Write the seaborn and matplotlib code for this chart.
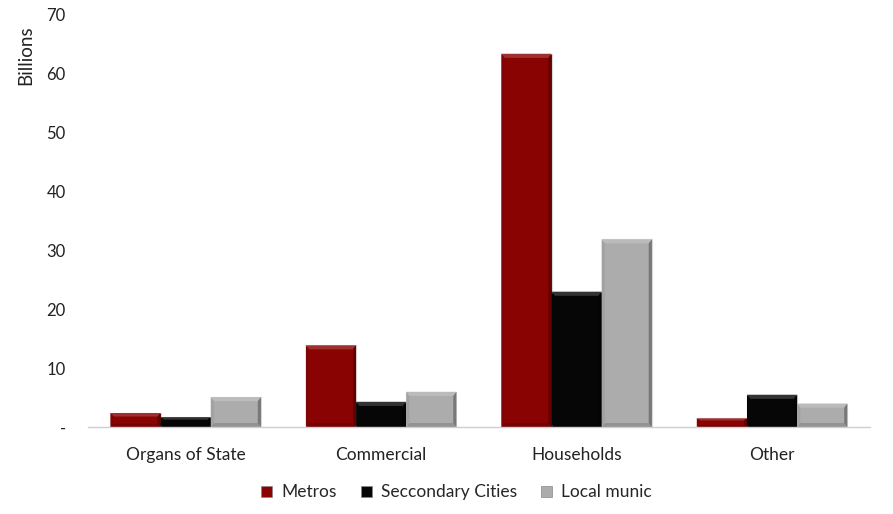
import matplotlib
matplotlib.use("Agg")
import matplotlib.pyplot as plt
import seaborn as sns
import pandas as pd
from matplotlib.patches import Patch, Polygon
import matplotlib.colors as mcolors
import numpy as np

categories = ["Organs of State", "Commercial", "Households", "Other"]
series = ["Metros", "Seccondary Cities", "Local munic"]
metros = [2.4, 13.9, 63.4, 1.5]
secondary = [1.7, 4.3, 23.0, 5.5]
local = [5.1, 6.0, 31.9, 4.0]
y_ticks = [0, 10, 20, 30, 40, 50, 60, 70]
y_tick_labels = ["-", "10", "20", "30", "40", "50", "60", "70"]

colors = ["#8a0303", "#060606", "#acacac"]

rows = []
for name, vals in zip(series, [metros, secondary, local]):
    for c, v in zip(categories, vals):
        rows.append({"Category": c, "Series": name, "Value": v})
df = pd.DataFrame(rows)

sns.set_style("white")
plt.rcParams["font.family"] = ["Lato", "DejaVu Sans"]

fig = plt.figure(figsize=(8.93, 5.14), dpi=100)
ax = fig.add_axes([0.0985, 0.169, 0.8755, 0.802])

sns.barplot(data=df, x="Category", y="Value", hue="Series", order=categories,
            hue_order=series, palette=colors, width=0.77, saturation=1,
            edgecolor="#d8d8d8", linewidth=0.8, ax=ax, legend=False)


def shade(c, f):
    r = np.array(mcolors.to_rgb(c))
    if f > 0:
        r = r + (1 - r) * f
    else:
        r = r * (1 + f)
    return tuple(np.clip(r, 0, 1))


# subtle bevel effect derived from the drawn bars
for p in list(ax.patches):
    h = p.get_height()
    if h <= 0:
        continue
    x0 = p.get_x()
    w = p.get_width()
    fc = p.get_facecolor()
    by = min(0.7, h * 0.25)
    bx = min(0.016, w * 0.08)
    x1 = x0 + w
    top = [(x0, h), (x1, h), (x1 - bx, h - by), (x0 + bx, h - by)]
    bot = [(x0, 0), (x1, 0), (x1 - bx, by), (x0 + bx, by)]
    left = [(x0, 0), (x0, h), (x0 + bx, h - by), (x0 + bx, by)]
    right = [(x1, 0), (x1, h), (x1 - bx, h - by), (x1 - bx, by)]
    for poly, f in [(top, 0.18), (bot, -0.15), (left, -0.06), (right, -0.3)]:
        ax.add_patch(Polygon(poly, closed=True, facecolor=shade(fc[:3], f),
                             edgecolor="none", zorder=p.get_zorder() + 0.1))

ax.set_ylim(0, 70)
ax.set_yticks(y_ticks)
ax.set_yticklabels(y_tick_labels, fontsize=12, color="#222222")
ax.tick_params(axis="y", length=0, pad=16)
ax.tick_params(axis="x", length=0, pad=14, labelsize=12.5, labelcolor="#222222")
ax.set_xlabel("")
ax.set_ylabel("")
for s in ["top", "right", "left"]:
    ax.spines[s].set_visible(False)
ax.spines["bottom"].set_color("#cfcfcf")
ax.spines["bottom"].set_linewidth(1.0)

fig.text(0.029, 0.893, "Billions", rotation=90, ha="center", va="center",
         fontsize=13.5, color="#222222")

handles = [Patch(facecolor=c, edgecolor="#888888", linewidth=0.5) for c in colors]
fig.legend(handles, series, loc="center", bbox_to_anchor=(0.511, 0.042), ncol=3,
           frameon=False, fontsize=12.5, handlelength=0.65, handleheight=0.65,
           handletextpad=0.5, columnspacing=1.4)

fig.savefig("out.png", dpi=100)
